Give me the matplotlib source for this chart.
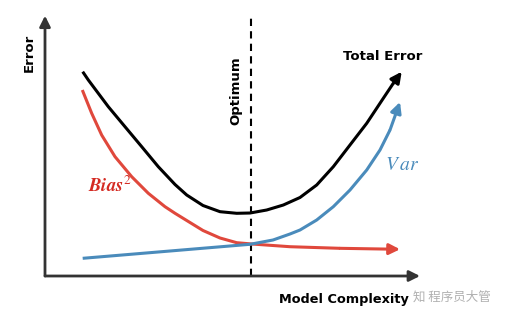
import matplotlib
matplotlib.use("Agg")
import matplotlib.pyplot as plt

plt.rcParams['font.family'] = ['DejaVu Sans', 'Noto Sans CJK SC']
plt.rcParams['mathtext.fontset'] = 'stix'

# Model complexity (x) and error values
total_x = [1.005, 1.155, 1.688, 2.133, 2.579, 3.021, 3.467, 3.779, 4.213, 4.667, 5.112, 5.467, 5.912,
           6.355, 6.8, 7.245, 7.688, 8.133, 8.579, 9.021, 9.288, 9.512]
total_error = [7.888, 7.568, 6.537, 5.764, 4.992, 4.220, 3.533, 3.127, 2.722, 2.483, 2.421, 2.432, 2.548,
               2.741, 3.031, 3.514, 4.220, 5.058, 5.896, 6.861, 7.440, 7.888]

bias_x = [0.995, 1.245, 1.512, 1.867, 2.312, 2.755, 3.2, 3.467, 3.779, 4.213, 4.667, 5.112, 5.512, 6.533, 7.867, 9.467]
bias_sq = [7.181, 6.282, 5.440, 4.606, 3.834, 3.193, 2.676, 2.421, 2.143, 1.757, 1.467, 1.286, 1.236, 1.131, 1.069, 1.031]

var_x = [1.005, 5.467, 6.08, 6.533, 6.8, 7.245, 7.688, 8.133, 8.579, 8.933, 9.2, 9.467]
variance = [0.683, 1.224, 1.390, 1.622, 1.776, 2.162, 2.676, 3.320, 4.093, 4.865, 5.637, 6.718]

optimum_x = 5.49

c_black = '#000000'
c_red = '#e0483c'
c_blue = '#4a8bbb'

fig = plt.figure(figsize=(5.09, 3.19), dpi=100)
ax = fig.add_axes([0, 0, 1, 1])
ax.set_xlim(-1.2, 12.373)
ax.set_ylim(-1.66, 10.656)
ax.axis('off')

# axes arrows
ax.annotate('', xy=(0, 10.05), xytext=(0, 0),
            arrowprops=dict(arrowstyle='-|>', color='#333333', lw=2, mutation_scale=16, shrinkA=0, shrinkB=0))
ax.annotate('', xy=(10.0, 0), xytext=(0, 0),
            arrowprops=dict(arrowstyle='-|>', color='#333333', lw=2, mutation_scale=16, shrinkA=0, shrinkB=0))

# optimum line
ax.plot([optimum_x, optimum_x], [0, 10.1], ls=(0, (3.5, 2.5)), color='black', lw=1.5)

def curve(xs, ys, color):
    ax.plot(xs[:-1], ys[:-1], color=color, lw=2.2, solid_joinstyle='round', solid_capstyle='butt')
    ax.annotate('', xy=(xs[-1], ys[-1]), xytext=(xs[-2], ys[-2]),
                arrowprops=dict(arrowstyle='-|>', color=color, lw=2.2, mutation_scale=16, shrinkA=0, shrinkB=0))

curve(bias_x, bias_sq, c_red)
curve(var_x, variance, c_blue)
curve(total_x, total_error, c_black)

# labels
ax.text(-0.43, 8.61, 'Error', rotation=90, ha='center', va='center', fontsize=9.5, fontweight='bold')
ax.text(5.09, 7.14, 'Optimum', rotation=90, ha='center', va='center', fontsize=9.5, fontweight='bold')
ax.text(9.01, 8.49, 'Total Error', ha='center', va='center', fontsize=9.5, fontweight='bold')
ax.text(9.52, 4.29, r'$V\,ar$', ha='center', va='center', fontsize=14, color=c_blue)
ax.text(1.73, 3.47, r'$\mathbfit{Bias}^{2}$', ha='center', va='center', fontsize=13.5, color='#d42a22')
ax.text(7.97, -0.89, 'Model Complexity', ha='center', va='center', fontsize=9.3, fontweight='bold')
ax.text(10.85, -0.81, '知 程序员大管', ha='center', va='center', fontsize=9,
        color='#b0b0b0', family=['Noto Sans CJK SC', 'DejaVu Sans'])

fig.savefig('out.png', dpi=100)
